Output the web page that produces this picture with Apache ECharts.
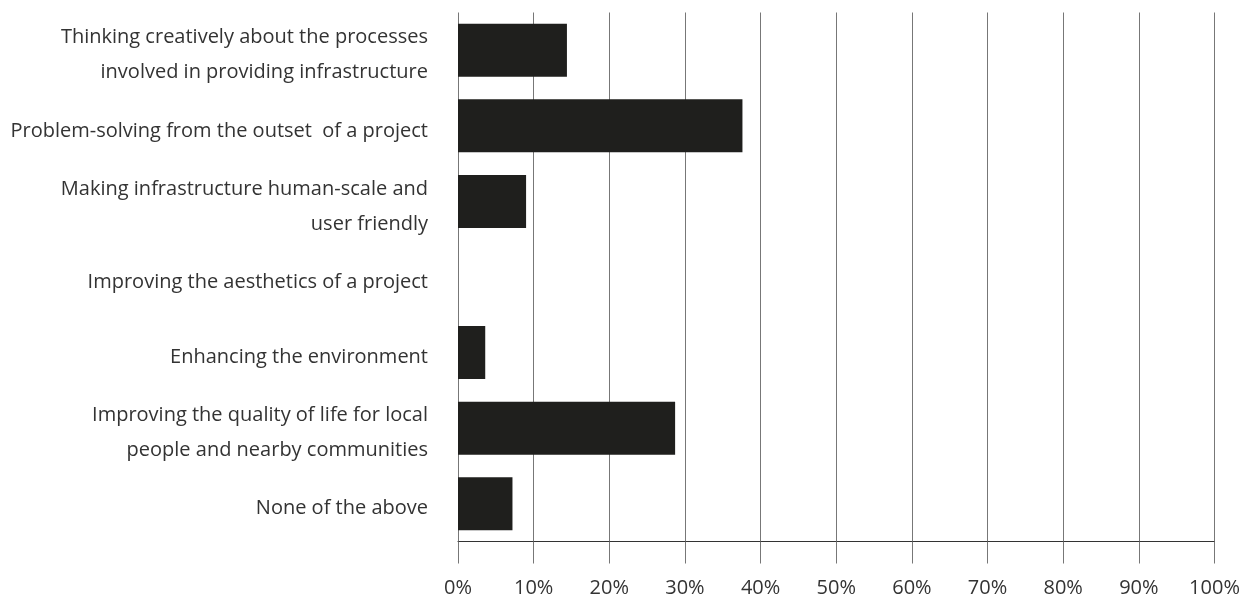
<!DOCTYPE html>
<html>
<head>
<meta charset="utf-8">
<script src="https://cdn.jsdelivr.net/npm/echarts@6/dist/echarts.min.js"></script>
<style>
  html, body { margin: 0; padding: 0; background: #fff; }
  #main { width: 1252px; height: 601px; }
</style>
</head>
<body>
<div id="main"></div>
<script>
let categories = [
  'Thinking creatively about the processes\ninvolved in providing infrastructure',
  'Problem-solving from the outset  of a project',
  'Making infrastructure human-scale and\nuser friendly',
  'Improving the aesthetics of a project',
  'Enhancing the environment',
  'Improving the quality of life for local\npeople and nearby communities',
  'None of the above'
];
let shareValues = [14.4, 37.6, 9.0, 0, 3.6, 28.7, 7.2];

function createChart() {
  let myChart = echarts.init(document.getElementById('main'));
  let option = {
    animation: false,
    textStyle: { fontFamily: 'Open Sans' },
    grid: { left: 458, right: 37.5, top: 12.5, bottom: 59.5 },
    xAxis: {
      type: 'value',
      min: 0,
      max: 100,
      interval: 10,
      axisLine: { show: true, lineStyle: { color: '#333', width: 1 } },
      axisTick: { show: true, length: 22, lineStyle: { color: '#777', width: 1 } },
      splitLine: { show: true, lineStyle: { color: '#777', width: 1 } },
      axisLabel: {
        formatter: '{value}%',
        color: '#333',
        fontSize: 20,
        margin: 37
      }
    },
    yAxis: {
      type: 'category',
      inverse: true,
      data: categories,
      axisLine: { show: false },
      axisTick: { show: false },
      axisLabel: {
        color: '#333',
        fontSize: 20,
        margin: 30,
        align: 'right',
        // 每行用富文本，整体往下挪一点
        formatter: function (value) {
          return value.split('\n').map(function (s) { return '{t|' + s + '}'; }).join('\n');
        },
        rich: {
          t: { fontSize: 20, color: '#333', lineHeight: 35, padding: [10, 0, 0, 0] }
        }
      }
    },
    series: [
      {
        type: 'bar',
        data: shareValues,
        barWidth: 53,
        itemStyle: { color: '#1f1f1d' }
      }
    ]
  };
  myChart.setOption(option);
}

createChart();
</script>
</body>
</html>
